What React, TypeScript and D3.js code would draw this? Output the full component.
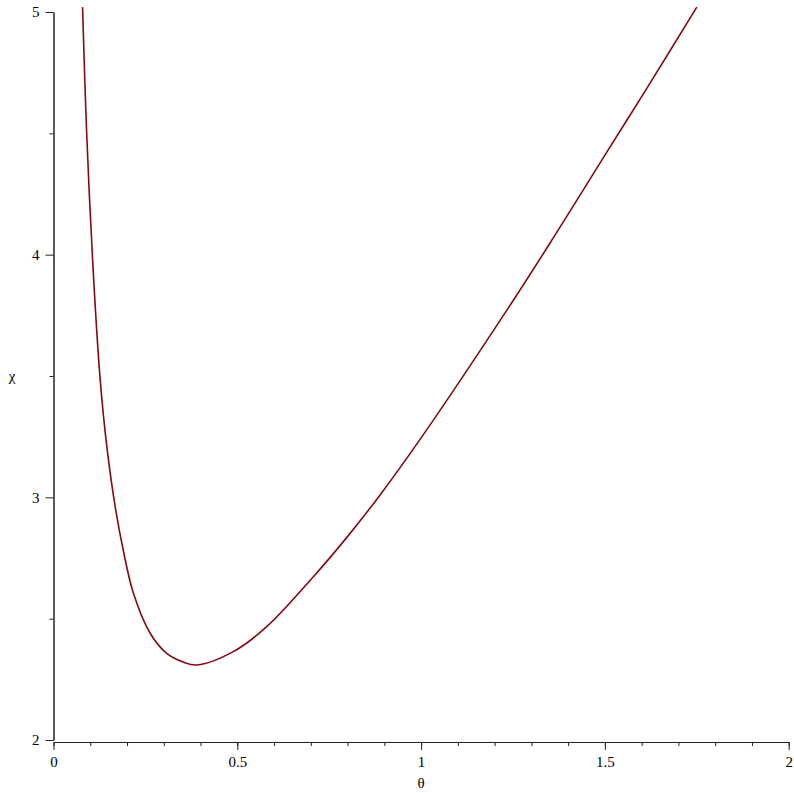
import React, { useEffect, useRef } from 'react';
import * as d3 from 'd3';

// values
const theta = [0.079, 0.090, 0.107, 0.127, 0.145, 0.169, 0.190, 0.217, 0.263, 0.308, 0.353, 0.390, 0.489, 0.580, 0.707, 0.798, 0.888, 1.000, 1.250, 1.360, 1.500, 1.614, 1.750];
const chi = [5.02, 4.51, 3.96, 3.485, 3.21, 2.95, 2.78, 2.607, 2.44, 2.357, 2.321, 2.309, 2.364, 2.467, 2.673, 2.835, 3.009, 3.245, 3.81, 4.07, 4.41, 4.685, 5.02];

const xMajor = [0, 0.5, 1, 1.5, 2];
const xMinor = d3.range(0, 2.001, 0.1);
const yMajor = [2, 3, 4, 5];
const yMinor = [2.5, 3.5, 4.5];

const App = () => {
  const ref = useRef<SVGSVGElement>(null);
  const width = 794;
  const height = 793;

  useEffect(() => {
    const svg = d3.select(ref.current);
    svg.selectAll('*').remove();

    const x = d3.scaleLinear().domain([0, 2]).range([53.5, 788.7]);
    const y = d3.scaleLinear().domain([2, 5]).range([740, 12]);
    const font = "'Liberation Serif', 'DejaVu Serif', 'Times New Roman', serif";

    // minor ticks first, then the labelled ones
    svg
      .append('g')
      .attr('transform', `translate(0,${y(2) + 2})`)
      .call(d3.axisBottom(x).tickValues(xMinor).tickSize(4).tickFormat(() => '').tickSizeOuter(0));
    svg
      .append('g')
      .attr('transform', `translate(0,${y(2) + 2})`)
      .call(d3.axisBottom(x).tickValues(xMajor).tickSize(8).tickPadding(6).tickFormat((d) => String(d)).tickSizeOuter(0));

    svg
      .append('g')
      .attr('transform', `translate(${x(0)},0)`)
      .call(d3.axisLeft(y).tickValues(yMinor).tickSize(4).tickFormat(() => '').tickSizeOuter(0));
    svg
      .append('g')
      .attr('transform', `translate(${x(0)},0)`)
      .call(d3.axisLeft(y).tickValues(yMajor).tickSize(8).tickPadding(6).tickFormat((d) => String(d)).tickSizeOuter(0));

    svg.selectAll('g').attr('font-family', null);
    svg.selectAll('.domain').attr('stroke', '#222');
    svg.selectAll('.tick line').attr('stroke', '#222');
    svg.selectAll('.tick text').style('font-family', font).style('font-size', '15px').attr('fill', '#000');

    // axis titles
    svg
      .append('text')
      .attr('x', 421)
      .attr('y', 788)
      .attr('text-anchor', 'middle')
      .style('font-family', font)
      .style('font-size', '15px')
      .text('θ');
    svg
      .append('text')
      .attr('x', 12)
      .attr('y', y(3.5) + 5)
      .attr('text-anchor', 'middle')
      .style('font-family', font)
      .style('font-size', '15px')
      .text('χ');

    const line = d3
      .line<number>()
      .x((d, i) => x(theta[i]))
      .y((d) => y(d))
      .curve(d3.curveCatmullRom.alpha(0.5));

    svg
      .append('path')
      .datum(chi)
      .attr('fill', 'none')
      .attr('stroke', '#820a14')
      .attr('stroke-width', 1.6)
      .attr('d', line);
  }, []);

  return (
    <svg
      ref={ref}
      width={width}
      height={height}
      style={{ position: 'absolute', top: 0, left: 0, background: '#fff' }}
    />
  );
};

export default App;
